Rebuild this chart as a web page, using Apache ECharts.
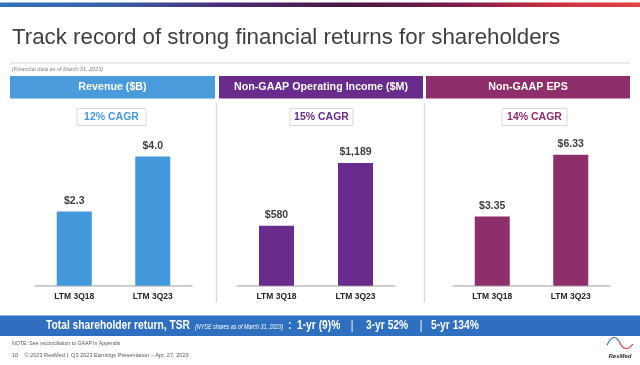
<!DOCTYPE html>
<html><head><meta charset="utf-8">
<script src="https://cdn.jsdelivr.net/npm/echarts@6/dist/echarts.min.js"></script>
<style>html,body{margin:0;padding:0;background:#fff}#c{width:640px;height:365px}</style>
</head><body><div id="c"></div>
<script>
const categories = ['LTM 3Q18', 'LTM 3Q23'];
const revenue = [2.3, 4.0];
const revenueLabels = ['$2.3', '$4.0'];
const opIncome = [580, 1189];
const opIncomeLabels = ['$580', '$1,189'];
const eps = [3.35, 6.33];
const epsLabels = ['$3.35', '$6.33'];
const panelTitles = ['Revenue ($B)', 'Non-GAAP Operating Income ($M)', 'Non-GAAP EPS'];
const cagrTexts = ['12% CAGR', '15% CAGR', '14% CAGR'];

const FONT = '"Liberation Sans", Arial, sans-serif';
const colors = ['#4499dc', '#692b8c', '#8e2e6a'];
const headerColors = ['#4a9bdc', '#692b8c', '#8e2e6a'];

const chart = echarts.init(document.getElementById('c'));

const grids = [
  {left: 35, width: 157, top: 124.2, height: 161.5},
  {left: 237, width: 158, top: 130.9, height: 154.8},
  {left: 453, width: 157, top: 130.5, height: 155.2}
];
const yMax = [5, 1500, 7.5];
const dataSets = [revenue, opIncome, eps];
const labelSets = [revenueLabels, opIncomeLabels, epsLabels];

const xAxes = grids.map((g, i) => ({
  type: 'category', gridIndex: i, data: categories,
  axisLine: {lineStyle: {color: '#bfbfbf', width: 1.5}},
  axisTick: {show: false},
  axisLabel: {color: '#262626', fontWeight: 'bold', fontSize: 8.5, fontFamily: FONT, margin: 6}
}));
const yAxes = grids.map((g, i) => ({
  type: 'value', gridIndex: i, min: 0, max: yMax[i], show: false
}));
const series = grids.map((g, i) => ({
  type: 'bar', xAxisIndex: i, yAxisIndex: i, data: dataSets[i], barWidth: 35,
  itemStyle: {color: colors[i]},
  label: {show: true, position: 'top', distance: 5, color: '#404040', fontWeight: 'bold',
    fontSize: 10.5, fontFamily: FONT, formatter: p => labelSets[i][p.dataIndex]}
}));

const headers = [[10, 205], [219, 204], [426, 204]];
const cagrBoxes = [[77, 69], [290, 63], [502, 65]];
const bannerText = (x, text, opts, y) => ({type: 'text', x: x, y: y || 326, scaleX: 0.82,
  style: Object.assign({text: text, fill: '#fff', fontSize: 12.5, fontWeight: 'bold', fontFamily: FONT, verticalAlign: 'middle'}, opts || {})});
const graphics = [
  {type: 'rect', shape: {x: 0, y: 2.5, width: 640, height: 4.5}, style: {fill: new echarts.graphic.LinearGradient(0, 0, 1, 0, [
    {offset: 0, color: '#2f72bb'}, {offset: 0.18, color: '#3a5fa8'}, {offset: 0.35, color: '#4b2c78'},
    {offset: 0.55, color: '#4a1640'}, {offset: 0.72, color: '#7c1d4c'}, {offset: 0.86, color: '#c9303e'}, {offset: 1, color: '#e24242'}])}},
  {type: 'text', left: 12, top: 27, style: {text: 'Track record of strong financial returns for shareholders', fill: '#404040', fontSize: 22.3, fontFamily: FONT}},
  {type: 'line', shape: {x1: 10, y1: 63, x2: 630, y2: 63}, style: {stroke: '#d6d6d6', lineWidth: 1}},
  {type: 'text', left: 12, top: 66, style: {text: '(Financial data as of March 31, 2023)', fill: '#7f7f7f', fontSize: 5.5, fontStyle: 'italic', fontFamily: FONT}},
  {type: 'line', shape: {x1: 216.5, y1: 103, x2: 216.5, y2: 302}, style: {stroke: '#dcdcdc', lineWidth: 1.5}},
  {type: 'line', shape: {x1: 424.5, y1: 103, x2: 424.5, y2: 302}, style: {stroke: '#dcdcdc', lineWidth: 1.5}},
  {type: 'rect', shape: {x: 0, y: 315.5, width: 640, height: 20.5}, style: {fill: '#2e6fbf'}},
  bannerText(46, 'Total shareholder return, TSR'),
  bannerText(195, '(NYSE shares as of March 31, 2023)', {fontSize: 6.6, fontWeight: 'normal', fontStyle: 'italic'}, 327.5),
  bannerText(288, ':'),
  bannerText(297, '1-yr (9)%'),
  bannerText(352, '|', {fontWeight: 'normal', align: 'center'}),
  bannerText(366, '3-yr 52%'),
  bannerText(421, '|', {fontWeight: 'normal', align: 'center'}),
  bannerText(431, '5-yr 134%'),
  {type: 'text', x: 12, y: 344, style: {text: 'NOTE: See reconciliation to GAAP in Appendix', fill: '#595959', fontSize: 5.2, fontFamily: FONT, verticalAlign: 'middle'}},
  {type: 'text', x: 12, y: 355.5, style: {text: '10    \u00a9 2023 ResMed |  Q3 2023 Earnings Presentation \u2013 Apr. 27, 2023', fill: '#595959', fontSize: 5.6, fontFamily: FONT, verticalAlign: 'middle'}},
  {type: 'bezierCurve', shape: {x1: 607, y1: 345, cpx1: 613, cpy1: 333, cpx2: 617, cpy2: 338, x2: 619.5, y2: 342}, style: {stroke: '#2d6db5', lineWidth: 1.2, fill: null}},
  {type: 'bezierCurve', shape: {x1: 619.5, y1: 342, cpx1: 622, cpy1: 348, cpx2: 627, cpy2: 352, x2: 633, y2: 344}, style: {stroke: '#d63a4a', lineWidth: 1.2, fill: null}},
  {type: 'text', x: 620, y: 356.5, style: {text: 'ResMed', fill: '#333', fontSize: 6, fontWeight: 'bold', fontStyle: 'italic', fontFamily: FONT, align: 'center', verticalAlign: 'middle'}}
];
headers.forEach((h, i) => {
  graphics.push({type: 'rect', shape: {x: h[0], y: 76, width: h[1], height: 22.5}, style: {fill: headerColors[i]}});
  graphics.push({type: 'text', x: h[0] + h[1] / 2, y: 87.5, style: {text: panelTitles[i], fill: '#fff', fontSize: 10.7, fontWeight: 'bold', fontFamily: FONT, align: 'center', verticalAlign: 'middle'}});
});
cagrBoxes.forEach((b, i) => {
  graphics.push({type: 'rect', shape: {x: b[0], y: 108.5, width: b[1], height: 17}, style: {fill: '#fff', stroke: '#d9d9d9', lineWidth: 1}});
  graphics.push({type: 'text', x: b[0] + b[1] / 2, y: 117.5, style: {text: cagrTexts[i], fill: colors[i], fontSize: 10.5, fontWeight: 'bold', fontFamily: FONT, align: 'center', verticalAlign: 'middle'}});
});

chart.setOption({
  animation: false,
  grid: grids,
  xAxis: xAxes,
  yAxis: yAxes,
  series: series,
  graphic: graphics
});
</script></body></html>
